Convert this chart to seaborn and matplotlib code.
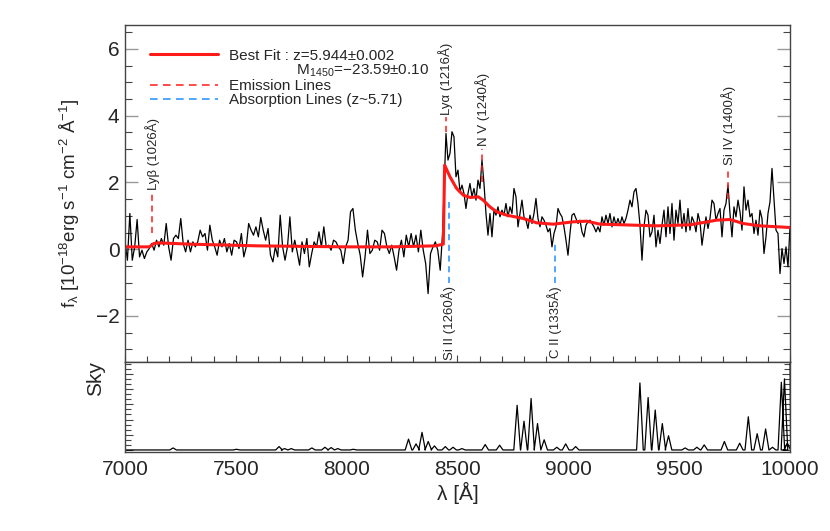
#!/usr/bin/env python
# -*- coding: utf-8 -*-
# quasar spectrum with best fit, line labels and sky panel
import numpy as np
import matplotlib
matplotlib.use("Agg")
import matplotlib.pyplot as plt
from matplotlib.lines import Line2D
from matplotlib.ticker import MultipleLocator, NullFormatter
import seaborn as sns

# spectrum blueward of Lya (10^-18 erg/s/cm2/A)
flux_blue = [0.22, -0.33, 1.07, -0.33, 0.07, 0.89, -0.23, -0.03, -0.28, -0.08,
             0.02, 0.17, -0.03, 0.27, 0.07, 0.32, 0.12, 0.77, 0.07, -0.33,
             0.32, 0.42, 0.32, 0.92, 0.17, -0.08, 0.27, -0.08, 0.22, 0.07,
             0.22, 0.57, 0.37, 0.47, -0.03, 0.72, 0.27, 0.07, -0.18, 0.27,
             0.07, 0.32, -0.08, 0.17, -0.18, 0.27, 0.22, 0.02, 0.47, -0.23,
             0.07, 0.77, 0.57, 0.42, 0.67, 0.37, 0.95, 0.57, 0.27, 0.62,
             -0.18, -0.38, 0.07, -0.23, 1.02, 0.07, -0.33, 0.07, 0.97, -0.08,
             0.27, -0.08, -0.48, 0.22, -0.13, 0.32, -0.53, -0.13, 0.22, 0.07,
             0.52, 0.07, 0.67, 0.07, 0.12, -0.03, 0.27, 0.22, 0.07, -0.03,
             -0.43, 0.07, 0.27, 1.12, 1.22, 0.57, 0.17, -0.18, -0.83, -0.23,
             0.57, -0.13, -0.03, 0.27, 0.22, -0.03, 0.57, 0.47, 0.07, -0.13,
             0.12, -0.23, -0.63, -0.03, 0.27, -0.23, 0.42, 0.07, 0.47, 0.07,
             0.42, -0.08, 0.57, -0.03, -0.43, -1.33, -0.13, 0.07, 0.22, -0.03,
             -0.63, 0.52]
# spectrum from Lya to the red end
flux_red = [3.47, 2.67, 2.87, 3.52, 3.37, 2.17, 2.37, 1.72, 1.92, 1.67,
            1.22, 1.67, 1.97, 1.57, 1.82, 1.47, 2.07, 1.82, 2.67, 1.97,
            1.07, 0.42, 1.07, 0.37, 1.17, 1.02, 1.27, 0.97, 1.17, 1.02,
            1.37, 0.97, 1.27, 1.07, 1.82, 1.57, 0.67, 1.07, 1.47, 0.97,
            0.87, 0.62, 1.02, 0.77, 1.07, 1.52, 0.92, 0.67, 0.97, 0.87,
            0.72, 0.52, 0.62, 0.07, 0.47, 0.67, 1.22, 1.07, 0.97, 0.67,
            0.27, -0.18, 0.47, 1.02, 1.07, 0.92, 0.77, 0.87, 0.52, 0.37,
            0.72, 0.82, 0.87, 0.77, 0.67, 0.52, 0.67, 0.52, 0.97, 0.72,
            1.02, 0.77, 1.07, 0.67, 0.97, 0.72, 0.92, 0.72, 0.97, 0.77,
            0.92, 1.17, 1.47, 1.27, 1.72, 1.82, 1.37, 0.72, -0.33, 0.67,
            1.17, 1.02, 0.37, 0.52, 1.02, 0.07, 0.57, 0.17, 0.72, 1.17,
            0.37, 1.27, 0.47, 1.37, 0.27, 1.17, 0.77, 1.47, 0.62, 1.07,
            0.52, 1.22, 0.57, 0.97, 0.82, 0.52, 1.07, 0.82, 0.12, 0.57,
            0.97, 0.62, 0.92, 1.47, 1.37, 0.87, 1.07, 1.22, 0.37, 1.17,
            1.37, 1.92, 1.07, 0.37, 1.27, 0.97, 1.47, 1.12, 0.57, 1.87,
            1.17, 1.47, 0.97, 1.07, 0.47, 0.87, 0.42, 1.17, 0.92, -0.13,
            0.37, 1.07, 1.42, 2.42, 1.47, 0.57, 0.47, -0.73, 0.02, -0.43,
            0.07, -0.53, 0.67]
wave_blue = np.linspace(7000, 8433, len(flux_blue))
wave_red = np.linspace(8448, 10000, len(flux_red))

# best fit model
fit_wave = [7000, 7110, 7130, 7150, 7300, 7600, 8000, 8200, 8400, 8436,
            8442, 8466, 8496, 8526, 8556, 8594, 8616, 8646, 8677, 8722,
            8797, 8857, 8932, 9022, 9083, 9143, 9248, 9398, 9549, 9669,
            9729, 9789, 9864, 10000]
fit_flux = [0.07, 0.07, 0.17, 0.19, 0.15, 0.10, 0.07, 0.07, 0.10, 0.15,
            2.52, 2.17, 1.82, 1.62, 1.55, 1.57, 1.47, 1.27, 1.12, 1.02,
            0.92, 0.79, 0.75, 0.82, 0.84, 0.75, 0.73, 0.70, 0.73, 0.87,
            0.89, 0.77, 0.70, 0.65]

# sky lines (arbitrary units)
sky_wave = [7217, 7503, 7695, 7720, 7750, 7843, 7902, 7930, 7960, 8030,
            8279, 8313, 8340, 8368, 8396, 8445, 8480, 8520, 8625, 8690,
            8769, 8800, 8832, 8861, 8891, 8948, 8988, 9033, 9323, 9360,
            9392, 9424, 9452, 9527, 9580, 9613, 9704, 9773, 9812, 9852,
            9890, 9921, 9961, 9975, 9988]
sky_height = [6, 2, 10, 4, 4, 6, 8, 7, 4, 2,
              32, 18, 52, 25, 12, 10, 8, 4, 16, 14,
              132, 85, 152, 78, 30, 8, 18, 10, 198, 155,
              118, 78, 42, 6, 8, 15, 25, 20, 98, 48,
              62, 8, 200, 210, 20]
sky_edge = 300  # sky runs off scale at the red end

# line identifications
em_names = ['Ly\u03b2 (1026\u00c5)', 'Ly\u03b1 (1216\u00c5)', 'N V (1240\u00c5)', 'Si IV (1400\u00c5)']
em_wave = [7123, 8446, 8612, 9722]
em_lo = [0.5, 3.5, 2.0, 1.5]
em_hi = [1.7, 3.95, 3.0, 2.45]
ab_names = ['Si II (1260\u00c5)', 'C II (1335\u00c5)']
ab_wave = [8460, 8940]
ab_hi = [1.5, 0.2]
ab_lo = -1.0

sns.set_style("ticks")
plt.rcParams['font.family'] = ['Liberation Sans', 'DejaVu Sans']
plt.rcParams['mathtext.default'] = 'regular'

frame_col = '#444444'
red = '#ff1a1a'
blue = '#1e8fff'

fig = plt.figure(figsize=(8.3, 5.31), dpi=100)
ax = fig.add_axes([0.1506, 0.3183, 0.8012, 0.6347])
ax2 = fig.add_axes([0.1506, 0.1488, 0.8012, 0.1695], sharex=ax)

sns.lineplot(x=np.concatenate([wave_blue, wave_red]), y=flux_blue + flux_red,
             ax=ax, color='black', lw=0.9, estimator=None, sort=False)
sns.lineplot(x=fit_wave, y=fit_flux, ax=ax, color=red, lw=2.2,
             estimator=None, sort=False)

for name, w, lo, hi in zip(em_names, em_wave, em_lo, em_hi):
    ax.plot([w, w], [lo, hi], color=red, lw=1.1, ls=(0, (4, 3)))
    ax.text(w, hi + 0.08, name, rotation=90, ha='center', va='bottom', fontsize=9.5)
for name, w, hi in zip(ab_names, ab_wave, ab_hi):
    ax.plot([w, w], [ab_lo, hi], color=blue, lw=1.1, ls=(0, (4, 3)))
    ax.text(w, ab_lo - 0.1, name, rotation=90, ha='center', va='top', fontsize=9.5)

handles = [Line2D([], [], color=red, lw=2.2),
           Line2D([], [], color='none'),
           Line2D([], [], color=red, lw=1.1, ls=(0, (5, 3.5))),
           Line2D([], [], color=blue, lw=1.1, ls=(0, (5, 3.5)))]
labels = ['Best Fit : z=5.944\u00b10.002',
          '                M$_{1450}$=\u221223.59\u00b10.10',
          'Emission Lines', 'Absorption Lines (z~5.71)']
ax.legend(handles, labels, loc='upper left', bbox_to_anchor=(0.037, 0.93),
          frameon=False, fontsize=11, handlelength=4.45, handletextpad=0.72,
          labelspacing=0.0, borderpad=0, borderaxespad=0)

ax.set_xlim(7000, 10000)
ax.set_ylim(-3.38, 6.72)
ax.yaxis.set_major_locator(MultipleLocator(2))
ax.yaxis.set_minor_locator(MultipleLocator(0.5))
ax.xaxis.set_major_locator(MultipleLocator(500))
ax.xaxis.set_minor_locator(MultipleLocator(100))
ax.tick_params(axis='y', which='both', direction='in', left=True, right=True,
               labelsize=15, pad=4)
ax.tick_params(axis='y', which='major', length=9.5, width=1, color='#999999')
ax.tick_params(axis='y', which='minor', length=5, width=0.8, color=frame_col)
ax.tick_params(axis='x', which='both', direction='in', bottom=True, top=False,
               labelbottom=False, color=frame_col, width=0.8)
ax.tick_params(axis='x', which='major', length=5)
ax.tick_params(axis='x', which='minor', length=4)
ax.set_ylabel('f$_{\u03bb}$ [10$^{-18}$erg s$^{-1}$ cm$^{-2}$ \u00c5$^{-1}$]', fontsize=13.5)
ax.yaxis.set_label_coords(-0.064, 0.47)
ax.set_xlabel('')

# sky panel: each line drawn as a peak on a flat baseline
sky_x, sky_y = [7000], [0]
for w, h in zip(sky_wave, sky_height):
    sky_x += [w - 15, w, w + 15]
    sky_y += [0, h, 0]
sky_x.append(10000)
sky_y.append(sky_edge)
sns.lineplot(x=sky_x, y=sky_y, ax=ax2, color='black', lw=0.9,
             estimator=None, sort=False)
ax2.set_ylim(-6, 260)
ax2.yaxis.set_major_locator(MultipleLocator(45))
ax2.yaxis.set_minor_locator(MultipleLocator(15))
ax2.yaxis.set_major_formatter(NullFormatter())
ax2.tick_params(axis='y', which='both', direction='in', left=True, right=True,
                color=frame_col, width=0.8)
ax2.tick_params(axis='y', which='major', length=6)
ax2.tick_params(axis='y', which='minor', length=4)
ax2.tick_params(axis='x', which='both', direction='in', bottom=False, top=False,
                labelsize=15, pad=6)
ax2.set_ylabel('Sky', fontsize=15)
ax2.yaxis.set_label_coords(-0.03, 0.82)
ax2.set_xlabel('\u03bb [\u00c5]', fontsize=15, labelpad=2)

for a in (ax, ax2):
    for s in a.spines.values():
        s.set_color(frame_col)
        s.set_linewidth(1.0)

plt.savefig('out.png', format='png', dpi=100)
